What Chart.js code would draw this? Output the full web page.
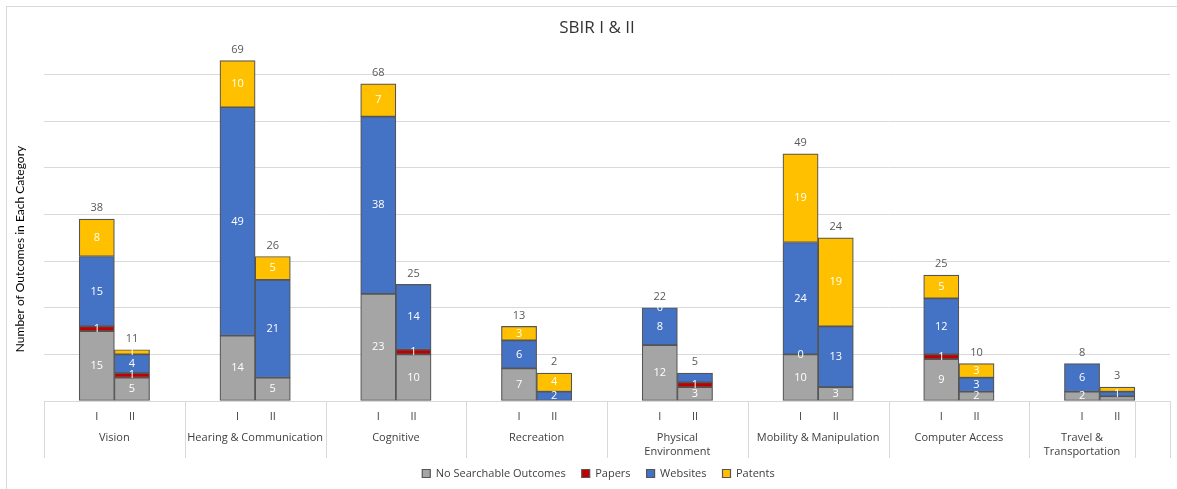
<!DOCTYPE html>
<html>
<head>
<meta charset="utf-8">
<script src="https://cdn.jsdelivr.net/npm/chart.js@4.4.1/dist/chart.umd.min.js"></script>
<style>
  html, body { margin: 0; padding: 0; background: #ffffff; }
  #wrap { width: 1177px; height: 489px; position: relative; }
</style>
</head>
<body>
<div id="wrap"><canvas id="c" width="1177" height="489"></canvas></div>
<script>
// ---------- data ----------
const chartTitle = 'SBIR I & II';
const yAxisTitle = 'Number of Outcomes in Each Category';
const groups = [['Vision'], ['Hearing & Communication'], ['Cognitive'], ['Recreation'],
                ['Physical', 'Environment'], ['Mobility & Manipulation'], ['Computer Access'],
                ['Travel &', 'Transportation']];
const phases = ['I', 'II'];
const seriesNames = ['No Searchable Outcomes', 'Papers', 'Websites', 'Patents'];

const noSearchI  = [15, 14, 23, 7, 12, 10, 9, 2];
const noSearchII = [5, 5, 10, null, 3, 3, 2, 1];
const papersI    = [1, null, null, null, null, 0, 1, null];
const papersII   = [1, null, 1, null, 1, null, null, null];
const websitesI  = [15, 49, 38, 6, 8, 24, 12, 6];
const websitesII = [4, 21, 14, 2, 2, 13, 3, 1];
const patentsI   = [8, 10, 7, 3, 0, 19, 5, null];
const patentsII  = [1, 5, null, 4, null, 19, 3, 1];
const totalsI    = [38, 69, 68, 13, 22, 49, 25, 8];
const totalsII   = [11, 26, 25, 2, 5, 24, 10, 3];
// segments drawn without a value label in the original: [series, phase, group]
const hiddenLabels = [[2, 'II', 4], [0, 'II', 7], [3, 'II', 7]];

const yTicks = [0, 10, 20, 30, 40, 50, 60, 70, 80];

// ---------- layout of category slots (blank, I, II, blank per group) ----------
const slotPattern = [
  ['', 'I', 'II', ''], ['', 'I', 'II', ''], ['', 'I', 'II', ''], ['', 'I', 'II', ''],
  ['', 'I', 'II', ''], ['', 'I', 'II', ''], ['', 'I', 'II', ''], ['', 'I', 'II']
];
const slotLabels = [];
const slotGroup = [];
const groupBounds = [0];
slotPattern.forEach((pat, g) => {
  pat.forEach(l => { slotLabels.push(l); slotGroup.push(g); });
  groupBounds.push(slotLabels.length);
});
slotLabels.push(''); slotGroup.push(-1);
groupBounds.push(slotLabels.length);

function buildSlots(arrI, arrII) {
  return slotLabels.map((l, i) => {
    const g = slotGroup[i];
    if (l === 'I') return arrI[g];
    if (l === 'II') return arrII[g];
    return null;
  });
}
const seriesData = [
  buildSlots(noSearchI, noSearchII),
  buildSlots(papersI, papersII),
  buildSlots(websitesI, websitesII),
  buildSlots(patentsI, patentsII)
];
const totalsSlots = buildSlots(totalsI, totalsII);
const colors = ['#A5A5A5', '#C00000', '#4472C4', '#FFC000'];

const FONT = "'Open Sans', 'DejaVu Sans', sans-serif";
const TEXT = '#404040';

const decorPlugin = {
  id: 'decor',
  beforeDraw(chart) {
    const ctx = chart.ctx;
    ctx.save();
    ctx.strokeStyle = '#d9d9d9';
    ctx.lineWidth = 1;
    ctx.strokeRect(6.5, 6.5, 1200, 600);
    ctx.restore();
  },
  afterDraw(chart) {
    const ctx = chart.ctx;
    const xs = chart.scales.x;
    const area = chart.chartArea;
    const n = slotLabels.length;
    const slotW = xs.width / n;
    ctx.save();
    // title
    ctx.fillStyle = '#333333';
    ctx.font = "17px " + FONT;
    ctx.textAlign = 'center';
    ctx.textBaseline = 'middle';
    ctx.fillText(chartTitle, 597, 28);
    // y axis title
    ctx.save();
    ctx.translate(20, 249);
    ctx.rotate(-Math.PI / 2);
    ctx.font = "12px Lato, 'Open Sans', sans-serif";
    ctx.fillStyle = '#000000';
    ctx.fillText(yAxisTitle, 0, 0);
    ctx.restore();
    // separators
    ctx.strokeStyle = '#d9d9d9';
    ctx.lineWidth = 1;
    groupBounds.forEach(b => {
      const x = Math.round(xs.left + b * slotW) + 0.5;
      ctx.beginPath();
      ctx.moveTo(x, area.bottom);
      ctx.lineTo(x, area.bottom + 57);
      ctx.stroke();
    });
    // group names
    ctx.fillStyle = TEXT;
    ctx.font = "11px " + FONT;
    groups.forEach((lines, g) => {
      const cx = xs.left + (groupBounds[g] + groupBounds[g + 1]) / 2 * slotW;
      lines.forEach((t, k) => ctx.fillText(t, cx, area.bottom + 37 + k * 14));
    });
    ctx.restore();
  },
  afterDatasetsDraw(chart) {
    const ctx = chart.ctx;
    ctx.save();
    ctx.font = "11px " + FONT;
    ctx.textAlign = 'center';
    ctx.textBaseline = 'middle';
    const tops = [];
    chart.data.datasets.forEach((ds, di) => {
      const meta = chart.getDatasetMeta(di);
      meta.data.forEach((el, i) => {
        const v = ds.data[i];
        if (v === null || v === undefined) return;
        tops[i] = tops[i] === undefined ? el.y : Math.min(tops[i], el.y);
        const g = slotGroup[i];
        const ph = slotLabels[i];
        if (hiddenLabels.some(h => h[0] === di && h[1] === ph && h[2] === g)) return;
        ctx.fillStyle = '#ffffff';
        ctx.fillText(String(v), el.x, (el.y + el.base) / 2);
      });
    });
    ctx.fillStyle = '#595959';
    const meta0 = chart.getDatasetMeta(0);
    totalsSlots.forEach((t, i) => {
      if (t === null || tops[i] === undefined) return;
      ctx.fillText(String(t), meta0.data[i].x, tops[i] - 11);
    });
    ctx.restore();
  }
};

new Chart(document.getElementById('c'), {
  type: 'bar',
  data: {
    labels: slotLabels,
    datasets: seriesNames.map((name, k) => ({
      label: name,
      data: seriesData[k],
      backgroundColor: colors[k],
      borderColor: '#555555',
      borderWidth: 1.2,
      borderSkipped: false,
      barPercentage: 1.0,
      categoryPercentage: 1.0
    }))
  },
  options: {
    responsive: false,
    animation: false,
    layout: { padding: { left: 27, right: 7, top: 28, bottom: 0 } },
    plugins: {
      title: { display: false },
      tooltip: { enabled: false },
      legend: {
        display: true,
        position: 'bottom',
        labels: {
          boxWidth: 8,
          boxHeight: 8,
          padding: 16,
          color: TEXT,
          font: { family: FONT, size: 11 }
        }
      }
    },
    scales: {
      x: {
        stacked: true,
        grid: { display: false, drawTicks: false },
        border: { display: false },
        ticks: {
          autoSkip: false, maxRotation: 0, minRotation: 0,
          padding: 9, color: TEXT,
          font: { family: FONT, size: 11 }
        },
        afterFit(scale) { scale.height = 51; }
      },
      y: {
        stacked: true,
        min: 0, max: 80,
        afterBuildTicks(scale) { scale.ticks = yTicks.map(v => ({ value: v })); },
        ticks: { display: false },
        border: { display: false },
        grid: {
          drawTicks: false,
          color: ctx => (ctx.tick && ctx.tick.value === 80) ? 'rgba(0,0,0,0)' : '#d9d9d9',
          lineWidth: 1
        },
        afterFit(scale) { scale.width = 17; }
      }
    }
  },
  plugins: [decorPlugin]
});
</script>
</body>
</html>
